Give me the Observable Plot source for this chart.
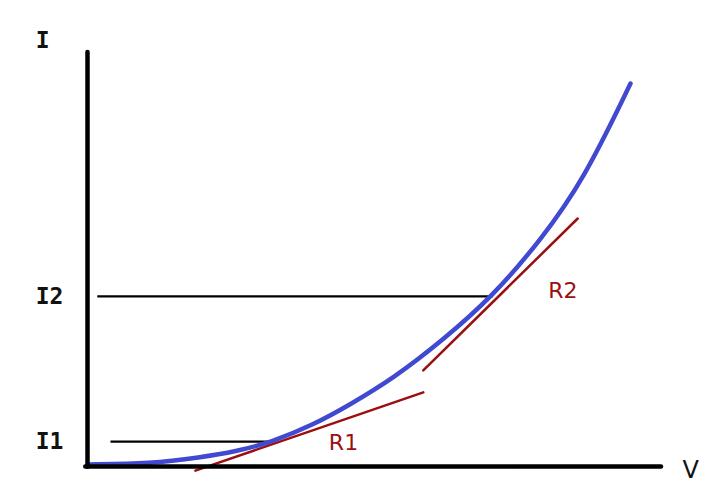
<!DOCTYPE html>
<html>
<head>
<meta charset="utf-8">
<script src="https://cdn.jsdelivr.net/npm/d3@7"></script>
<script src="https://cdn.jsdelivr.net/npm/@observablehq/plot@0.6"></script>
<style>
  html, body { margin: 0; padding: 0; background: #fff; }
  #chart svg { display: block; }
</style>
</head>
<body>
<div id="chart"></div>
<script>
// Diode I-V characteristic (abstract units, 0-100 on each axis)
const curveV = [0, 11.0, 19.7, 25.8, 31.9, 39.4, 45.8, 53.3, 61.8, 70.6, 78.9, 86.4, 94.6];
const curveI = [0.5, 0.7, 2.2, 3.6, 5.8, 10.1, 15.0, 21.3, 30.4, 41.1, 54.6, 69.1, 92.5];

// Operating-point guide lines (I1, I2)
const guideNames = ["I1", "I2"];
const guideI = [6.0, 41.1];
const guideV0 = [4.0, 1.7];
const guideV1 = [32.2, 70.6];

// Tangent lines (dynamic resistance R1, R2)
const tangentNames = ["R1", "R2"];
const tangentV0 = [18.8, 58.5];
const tangentI0 = [-1.0, 23.2];
const tangentV1 = [58.5, 85.4];
const tangentI1 = [17.9, 59.9];
const tangentLabelV = [44.6, 82.8];
const tangentLabelI = [5.6, 42.5];

// Axis titles
const axisTitles = ["I", "V"];
const axisTitleV = [-7.8, 105.1];
const axisTitleI = [102.9, -1.0];

const curve = curveV.map((v, i) => ({v, i: curveI[i]}));
const guides = guideNames.map((n, k) => ({name: n, i: guideI[k], v0: guideV0[k], v1: guideV1[k]}));
const tangents = tangentNames.map((n, k) => ({
  name: n, v0: tangentV0[k], i0: tangentI0[k], v1: tangentV1[k], i1: tangentI1[k],
  lv: tangentLabelV[k], li: tangentLabelI[k]
}));
const titles = axisTitles.map((t, k) => ({t, v: axisTitleV[k], i: axisTitleI[k]}));

const red = "#9a1010";
const blue = "#4149d0";

const chart = Plot.plot({
  width: 726,
  height: 488,
  marginLeft: 87,
  marginRight: 65,
  marginTop: 52,
  marginBottom: 22,
  x: {domain: [0, 100], axis: null},
  y: {domain: [0, 100], axis: null},
  marks: [
    // guide lines
    Plot.link(guides, {x1: "v0", x2: "v1", y1: "i", y2: "i", stroke: "#000", strokeWidth: 2.2}),
    // guide labels
    Plot.text(guides, {x: -6.6, y: "i", text: "name", fontFamily: "DejaVu Sans Mono", fontWeight: "bold", fontSize: 23, fill: "#111"}),
    // tangent lines
    Plot.link(tangents, {x1: "v0", y1: "i0", x2: "v1", y2: "i1", stroke: red, strokeWidth: 2.5, strokeLinecap: "round"}),
    Plot.text(tangents, {x: "lv", y: "li", text: "name", fontFamily: "DejaVu Sans", fontSize: 22, fill: red}),
    // curve
    Plot.line(curve, {x: "v", y: "i", curve: "basis", stroke: blue, strokeWidth: 4.5, strokeLinecap: "round"}),
    // axes
    Plot.ruleX([0], {y1: -0.2, y2: 100, stroke: "#000", strokeWidth: 4.5, strokeLinecap: "round"}),
    Plot.ruleY([0], {x1: -0.3, x2: 100, stroke: "#000", strokeWidth: 4.5, strokeLinecap: "round"}),
    // axis titles
    Plot.text(titles.slice(0, 1), {x: "v", y: "i", text: "t", fontFamily: "DejaVu Sans Mono", fontWeight: "bold", fontSize: 23, fill: "#111"}),
    Plot.text(titles.slice(1), {x: "v", y: "i", text: "t", fontFamily: "DejaVu Sans", fontSize: 24, fill: "#111"})
  ]
});
document.getElementById("chart").appendChild(chart);
</script>
</body>
</html>
